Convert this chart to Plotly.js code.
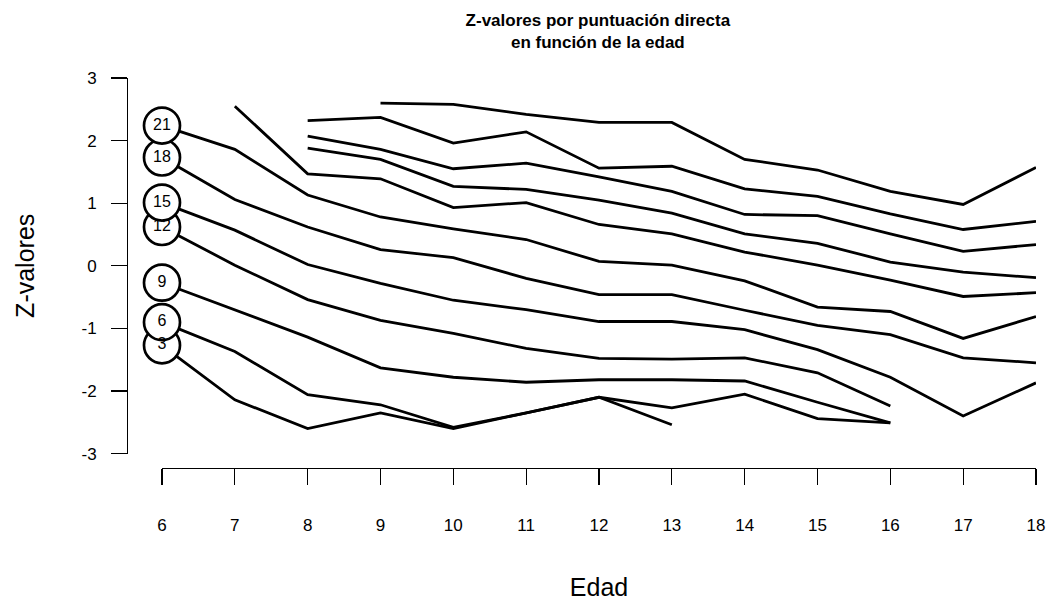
<!DOCTYPE html>
<html>
<head>
<meta charset="utf-8">
<script src="https://cdn.plot.ly/plotly-3.0.1.min.js"></script>
<style>html,body{margin:0;padding:0;background:#fff;}#chart{width:1051px;height:601px;}</style>
</head>
<body>
<div id="chart"></div>
<script>
// Ages (x categories)
const ages = [6, 7, 8, 9, 10, 11, 12, 13, 14, 15, 16, 17, 18];

// Z-values per raw score (labelled curves, start at age 6)
const score3  = [-1.27, -2.14, -2.60, -2.35, -2.60, -2.35, -2.10, -2.54, null, null, null, null, null];
const score6  = [-0.90, -1.37, -2.06, -2.22, -2.58, -2.35, -2.10, -2.27, -2.05, -2.44, -2.51, null, null];
const score9  = [-0.27, -0.70, -1.14, -1.63, -1.78, -1.86, -1.82, -1.82, -1.84, -2.18, -2.51, null, null];
const score12 = [0.62, 0.01, -0.54, -0.87, -1.08, -1.32, -1.48, -1.49, -1.47, -1.71, -2.24, null, null];
const score15 = [1.01, 0.57, 0.02, -0.28, -0.55, -0.70, -0.89, -0.89, -1.02, -1.34, -1.78, -2.40, -1.87];
const score18 = [1.73, 1.06, 0.62, 0.26, 0.13, -0.20, -0.46, -0.46, -0.71, -0.95, -1.10, -1.47, -1.55];
const score21 = [2.24, 1.86, 1.13, 0.78, 0.59, 0.42, 0.07, 0.01, -0.24, -0.66, -0.73, -1.16, -0.81];

// Unlabelled curves (start at later ages)
const curveFrom7a = [null, 2.55, 1.47, 1.39, 0.93, 1.01, 0.66, 0.51, 0.22, 0.01, -0.23, -0.49, -0.43];
const curveFrom8a = [null, null, 1.88, 1.70, 1.27, 1.22, 1.05, 0.84, 0.51, 0.36, 0.06, -0.10, -0.19];
const curveFrom8b = [null, null, 2.07, 1.86, 1.55, 1.64, 1.42, 1.19, 0.82, 0.80, 0.51, 0.23, 0.34];
const curveFrom8c = [null, null, 2.32, 2.37, 1.96, 2.14, 1.56, 1.59, 1.23, 1.11, 0.83, 0.58, 0.71];
const curveFrom9a = [null, null, null, 2.60, 2.58, 2.42, 2.29, 2.29, 1.70, 1.53, 1.19, 0.98, 1.57];

// Circle labels at the first age
const labelTexts = ['3', '6', '9', '12', '15', '18', '21'];
const labelledSeries = [score3, score6, score9, score12, score15, score18, score21];

// Axis ticks
const xTickVals = ages;
const xTickText = ['6','7','8','9','10','11','12','13','14','15','16','17','18'];
const yTickVals = [-3, -2, -1, 0, 1, 2, 3];
const yTickText = ['-3', '-2', '-1', '0', '1', '2', '3'];

const allSeries = [score3, score6, score9, score12, score15, score18, score21,
                   curveFrom7a, curveFrom8a, curveFrom8b, curveFrom8c, curveFrom9a];

const FONT = 'Liberation Sans, Arial, Helvetica, sans-serif';

const traces = allSeries.map(s => ({
  type: 'scatter', mode: 'lines', x: ages, y: s,
  line: {color: '#000', width: 2.8}, connectgaps: false,
  cliponaxis: false, hoverinfo: 'skip', showlegend: false
}));

traces.push({
  type: 'scatter', mode: 'markers+text',
  x: labelledSeries.map(() => ages[0]),
  y: labelledSeries.map(s => s[0]),
  text: labelTexts, textposition: 'middle center',
  textfont: {family: FONT, size: 16, color: '#000'},
  marker: {symbol: 'circle', size: 36, color: '#fff', line: {color: '#000', width: 2.7}},
  cliponaxis: false, hoverinfo: 'skip', showlegend: false
});

const layout = {
  width: 1051, height: 601,
  paper_bgcolor: '#fff', plot_bgcolor: '#fff',
  margin: {l: 127, r: 15, t: 77.7, b: 133.3, pad: 0},
  font: {family: FONT, color: '#000'},
  showlegend: false,
  title: {
    text: '<b>Z-valores por puntuación directa<br>en función de la edad</b>',
    font: {family: FONT, size: 17, color: '#000'},
    x: 0.518, xanchor: 'center', xref: 'paper',
    y: 0.957, yanchor: 'top', yref: 'container'
  },
  xaxis: {
    range: [6, 18], domain: [0.0385, 1], anchor: 'free', position: 0,
    showgrid: false, zeroline: false,
    showline: true, linecolor: '#000', linewidth: 1.3,
    ticks: 'outside', ticklen: 16, tickwidth: 1.3, tickcolor: '#000',
    tickmode: 'array', tickvals: xTickVals, ticktext: xTickText,
    tickfont: {family: FONT, size: 17, color: '#000'},
    ticklabelstandoff: 25,
    title: {text: 'Edad', font: {family: FONT, size: 25, color: '#000'}, standoff: 47}
  },
  yaxis: {
    range: [-3, 3], domain: [0.0369, 1], anchor: 'free', position: 0,
    showgrid: false, zeroline: false,
    showline: true, linecolor: '#000', linewidth: 1.3,
    ticks: 'outside', ticklen: 16, tickwidth: 1.3, tickcolor: '#000',
    tickmode: 'array', tickvals: yTickVals, ticktext: yTickText,
    tickfont: {family: FONT, size: 17, color: '#000'},
    ticklabelstandoff: 11,
    title: {text: 'Z-valores', font: {family: FONT, size: 25, color: '#000'}, standoff: 38}
  }
};

Plotly.newPlot('chart', traces, layout, {displayModeBar: false, staticPlot: true});
</script>
</body>
</html>
